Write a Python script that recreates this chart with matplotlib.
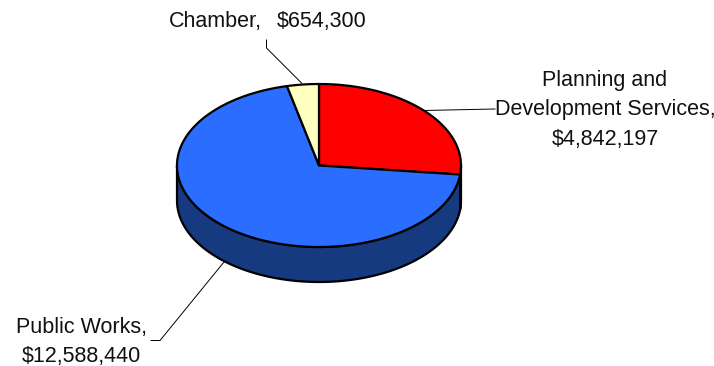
import numpy as np
import matplotlib
matplotlib.use("Agg")
import matplotlib.pyplot as plt
from matplotlib.patches import Polygon

plt.rcParams['font.family'] = ['Liberation Sans', 'DejaVu Sans']

departments = ["Planning and\nDevelopment Services,", "Public Works,", "Chamber,"]
budgets = [4842197, 12588440, 654300]
top_colors = ["#FF0000", "#2B6EFF", "#FFFFC0"]
side_colors = ["#7F0000", "#153A7F", "#80805F"]

# pie geometry in pixels
cx, cy = 319, 165.5
rx, ry = 142, 81.5
depth = 35


def rim(start, end, n=200):
    # points round the ellipse, angles clockwise from 12 o'clock
    t = np.radians(np.linspace(start, end, n))
    return cx + rx * np.sin(t), cy - ry * np.cos(t)


fig = plt.figure(figsize=(7.14, 3.66), dpi=100)
ax = fig.add_axes([0, 0, 1, 1])
ax.set_xlim(0, 714)
ax.set_ylim(366, 0)
ax.axis("off")

angles = np.cumsum([0] + budgets) / sum(budgets) * 360

# side wall first, only the front half shows
for i in range(len(budgets)):
    a = max(angles[i], 90)
    b = min(angles[i + 1], 270)
    if b <= a:
        continue
    x, y = rim(a, b)
    pts = np.vstack([np.c_[x, y], np.c_[x[::-1], y[::-1] + depth]])
    ax.add_patch(Polygon(pts, closed=True, fc=side_colors[i], ec="black",
                         lw=1.6, joinstyle="round", zorder=2))

# top faces
for i in range(len(budgets)):
    x, y = rim(angles[i], angles[i + 1])
    pts = np.vstack([[cx, cy], np.c_[x, y]])
    ax.add_patch(Polygon(pts, closed=True, fc=top_colors[i], ec="black",
                         lw=1.6, joinstyle="round", zorder=3))

# leader lines
ax.plot([266.5, 266.5, 302], [40, 48, 83.5], color="black", lw=0.7, zorder=1)
ax.plot([424, 495], [110.5, 109], color="black", lw=0.7, zorder=1)
ax.plot([224, 160, 151], [262, 340.5, 340.5], color="black", lw=0.7, zorder=1)

fs = 15.5
color = "#111111"
ax.text(169, 22, departments[2], fontsize=fs, color=color, ha="left", va="center")
ax.text(277, 22, f"${budgets[2]:,}", fontsize=fs, color=color, ha="left", va="center")
ax.text(605, 110, f"{departments[0]}\n${budgets[0]:,}", fontsize=fs, color=color,
        ha="center", va="center", linespacing=1.52)
ax.text(81.5, 342, f"{departments[1]}\n${budgets[1]:,}", fontsize=fs, color=color,
        ha="center", va="center", linespacing=1.52)

fig.savefig("out.png", dpi=100, facecolor="white")
